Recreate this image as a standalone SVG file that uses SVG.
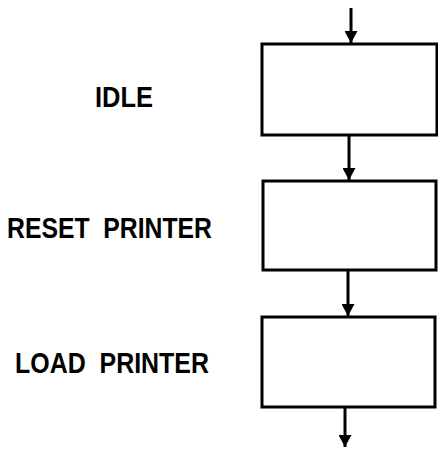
<svg xmlns="http://www.w3.org/2000/svg" width="438" height="449" viewBox="0 0 438 449">
<style>
.box{fill:none;stroke:#000;stroke-width:3}
.lbl{font-family:"Liberation Sans","DejaVu Sans",sans-serif;font-weight:bold;font-size:30px;fill:#000;white-space:pre}
.con{stroke:#000;stroke-width:3;fill:none}
</style>
<defs>
<marker id="ah" viewBox="0 0 12 13" refX="12" refY="6.5" markerWidth="12" markerHeight="13" markerUnits="userSpaceOnUse" orient="auto">
<path d="M0,0 L12,6.5 L0,13 Z" fill="#000"/>
</marker>
</defs>
<rect width="438" height="449" fill="#fff"/>
<g id="idle">
<rect class="box" x="262" y="44" width="175" height="91"/>
<text class="lbl" x="95" y="107" textLength="58" lengthAdjust="spacingAndGlyphs">IDLE</text>
</g>
<g id="reset-printer">
<rect class="box" x="263" y="181" width="173" height="89"/>
<text class="lbl" x="7" y="238" textLength="205" lengthAdjust="spacingAndGlyphs" xml:space="preserve">RESET  PRINTER</text>
</g>
<g id="load-printer">
<rect class="box" x="262" y="317" width="173" height="90"/>
<text class="lbl" x="15" y="373" textLength="194" lengthAdjust="spacingAndGlyphs" xml:space="preserve">LOAD  PRINTER</text>
</g>
<g id="connectors">
<line class="con" x1="351" y1="8" x2="351" y2="43" marker-end="url(#ah)"/>
<line class="con" x1="349" y1="136" x2="349" y2="180" marker-end="url(#ah)"/>
<line class="con" x1="348" y1="271" x2="348" y2="316" marker-end="url(#ah)"/>
<line class="con" x1="345" y1="408" x2="345" y2="447" marker-end="url(#ah)"/>
</g>
</svg>
